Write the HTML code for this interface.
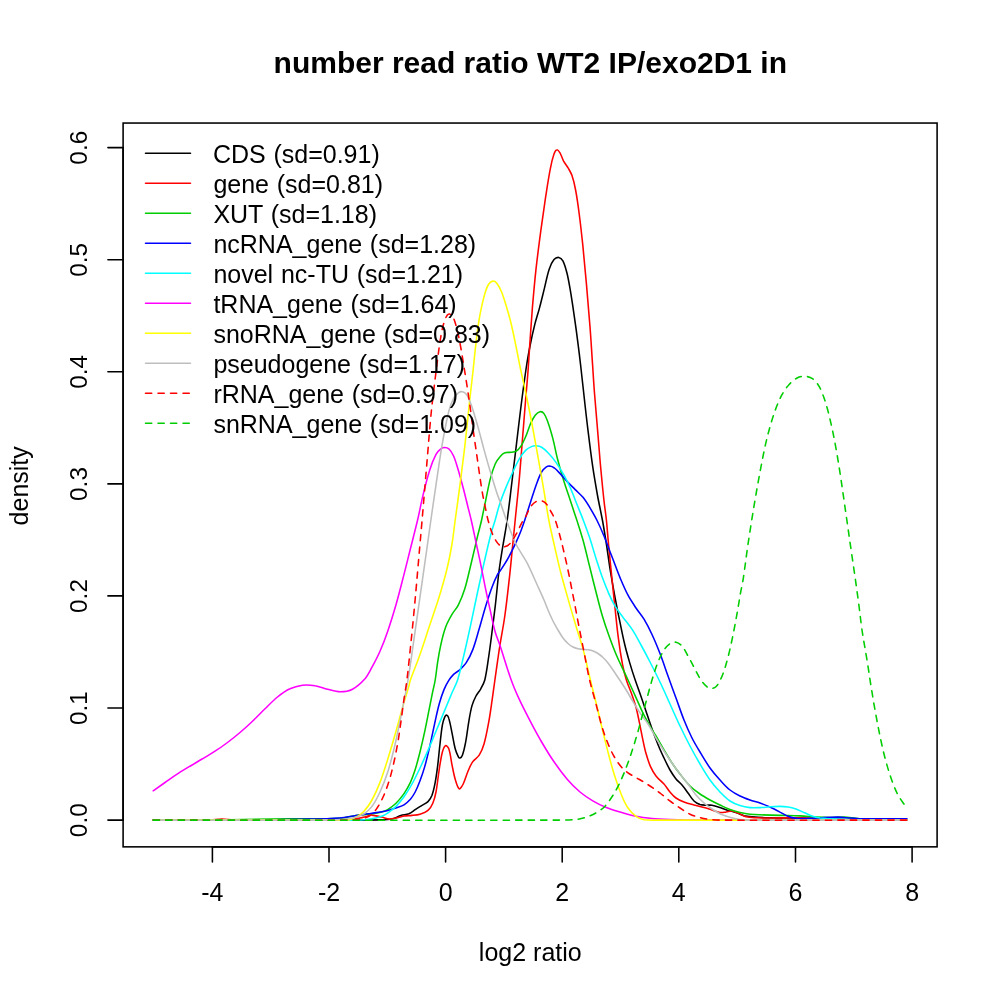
<!DOCTYPE html>
<html lang="en"><head><meta charset="utf-8"><title>number read ratio WT2 IP/exo2D1 in</title>
<style>html,body{margin:0;padding:0;background:#fff;width:1000px;height:1000px;overflow:hidden}</style>
</head><body>
<svg width="1000" height="1000" viewBox="0 0 1000 1000" style="position:absolute;left:0;top:0">
<rect width="1000" height="1000" fill="#fff"/>
<g fill="none" stroke-width="1.56" stroke-linejoin="round" stroke-linecap="round">
<path d="M153.2,820.1C212.2,820.1 271.1,820.2 330.0,820.1C346.7,820.1 363.3,820.2 380.0,819.9C384.3,819.8 388.7,819.7 392.8,818.8C395.6,818.2 398.1,816.3 400.8,815.4C403.4,814.6 406.3,814.8 408.8,813.8C411.1,812.8 413.1,811.0 415.2,809.6C417.3,808.2 419.5,806.9 421.6,805.6C423.7,804.3 426.3,803.3 428.0,801.6C429.7,799.9 431.1,797.5 432.0,795.2C433.5,791.1 434.4,786.7 435.2,782.4C436.2,777.1 436.9,771.8 437.6,766.4C438.5,759.0 439.1,751.5 440.0,744.0C440.7,737.6 441.3,731.1 442.4,724.8C442.9,722.1 443.7,719.2 444.8,716.8C445.2,716.0 446.3,715.0 446.9,715.2C447.7,715.5 448.5,717.2 448.8,718.4C450.2,723.1 451.0,728.0 452.0,732.8C453.1,738.1 453.8,743.6 455.2,748.8C455.9,751.6 457.1,754.3 458.4,756.8C458.7,757.4 459.5,758.2 460.0,758.0C460.9,757.7 462.0,756.3 462.4,755.2C463.9,751.1 464.8,746.7 465.6,742.4C466.9,735.5 467.6,728.5 468.8,721.6C469.7,716.2 470.5,710.8 472.0,705.6C472.9,702.3 474.4,699.1 476.0,696.0C477.3,693.5 479.4,691.3 480.8,688.8C482.3,686.0 484.0,683.1 484.8,680.0C486.7,672.2 487.6,664.0 488.8,656.0C490.0,648.0 491.0,640.0 492.0,632.0C493.1,623.5 494.2,614.9 495.2,606.4C496.4,596.3 497.3,586.1 498.4,576.0C498.9,572.0 499.4,568.0 500.0,564.0C501.0,557.3 502.1,550.7 503.2,544.0C504.5,536.0 506.1,528.0 507.2,520.0C508.7,509.4 509.9,498.7 511.2,488.0C512.8,474.7 514.4,461.3 516.0,448.0C517.6,434.7 519.1,421.3 520.8,408.0C522.4,395.3 524.0,382.6 525.9,370.0C527.1,362.0 528.4,354.0 530.0,346.0C531.4,338.8 533.0,331.6 534.8,324.4C536.2,318.8 538.1,313.2 539.6,307.6C541.3,301.2 542.8,294.8 544.4,288.4C546.0,282.0 547.1,275.4 549.2,269.2C550.3,265.8 551.9,262.2 554.0,259.6C555.1,258.3 557.3,257.2 558.8,257.4C560.3,257.6 562.1,259.3 562.9,260.8C564.9,264.8 566.1,269.5 567.2,274.0C568.7,280.3 569.7,286.8 570.8,293.2C572.1,301.2 573.3,309.2 574.4,317.2C575.7,326.0 576.9,334.8 578.0,343.6C578.9,350.7 579.8,357.9 580.6,365.0C581.6,374.0 582.6,383.0 583.6,392.0C585.0,404.8 586.4,417.6 588.0,430.4C589.5,442.7 591.0,455.0 592.8,467.2C594.2,476.8 595.9,486.4 597.6,496.0C599.1,504.0 600.9,512.0 602.4,520.0C603.9,528.0 605.1,536.0 606.4,544.0C607.8,553.1 608.9,562.2 610.4,571.2C611.9,580.3 613.5,589.4 615.2,598.4C616.7,606.4 618.3,614.4 620.0,622.4C621.5,629.9 623.0,637.4 624.8,644.8C626.2,650.7 627.9,656.6 629.6,662.4C631.3,668.3 633.2,674.2 635.2,680.0C636.9,685.0 638.8,690.0 640.5,695.0C642.6,701.0 644.6,707.0 646.6,713.0C648.7,719.0 650.6,725.0 652.8,731.0C654.8,736.4 656.8,741.7 659.0,747.0C660.5,750.7 662.3,754.4 664.0,758.0C665.9,762.0 667.8,766.1 670.0,770.0C671.8,773.1 673.8,776.2 676.0,779.0C677.8,781.2 680.2,782.9 682.0,785.0C684.2,787.5 686.0,790.3 688.0,793.0C690.0,795.7 691.6,798.7 694.0,801.0C695.6,802.6 697.9,803.8 700.0,804.6C701.9,805.2 704.0,805.1 706.0,805.2C708.0,805.3 710.0,804.9 712.0,805.2C714.7,805.7 717.4,806.7 720.0,807.6C722.7,808.5 725.3,809.6 728.0,810.4C730.6,811.2 733.4,811.6 736.0,812.5C738.7,813.4 741.2,814.9 744.0,815.7C746.6,816.3 749.3,816.5 752.0,816.7C757.3,817.2 762.7,817.6 768.0,817.8C773.3,818.0 778.7,817.9 784.0,818.0C789.3,818.0 794.7,817.9 800.0,818.0C810.0,818.2 820.0,818.8 830.0,819.0C840.0,819.3 850.0,819.6 860.0,819.7C875.6,819.8 891.3,819.8 907.0,819.9" stroke="#000000"/>
<path d="M153.2,820.1C172.2,820.1 191.1,820.4 210.0,820.1C214.0,820.0 218.0,819.1 222.0,819.1C226.0,819.1 230.0,820.1 234.0,820.1C269.3,820.3 304.7,820.4 340.0,819.8C346.7,819.7 353.4,818.7 360.0,817.9C362.4,817.6 364.8,816.8 367.2,816.3C368.8,815.9 370.4,815.0 372.0,815.1C375.2,815.3 378.4,816.4 381.6,817.1C384.3,817.7 386.9,819.0 389.6,819.1C391.7,819.3 393.9,818.5 396.0,818.0C398.7,817.4 401.3,816.4 404.0,816.0C406.6,815.6 409.3,815.7 412.0,815.4C414.7,815.2 417.5,815.1 420.0,814.3C422.8,813.4 425.8,812.3 428.0,810.4C430.1,808.6 431.7,805.8 432.8,803.2C434.3,799.7 435.3,795.8 436.0,792.0C437.4,784.6 438.0,777.0 439.2,769.6C440.1,763.7 440.9,757.7 442.4,752.0C443.0,749.7 444.3,746.3 445.6,745.6C446.4,745.2 448.3,747.4 448.8,748.8C450.5,753.8 450.9,759.5 452.0,764.8C453.0,769.6 453.8,774.5 455.2,779.2C456.2,782.5 457.5,787.8 459.2,788.8C460.2,789.4 462.3,785.8 463.2,784.0C465.2,780.0 466.2,775.4 468.0,771.2C469.4,767.9 470.8,764.5 472.8,761.6C474.5,759.2 477.6,757.7 479.2,755.2C481.3,751.8 482.9,747.9 484.0,744.0C486.1,736.7 487.4,729.1 488.8,721.6C490.1,714.7 491.0,707.7 492.0,700.8C493.0,693.9 493.9,686.9 494.9,680.0C495.8,673.6 496.7,667.2 497.6,660.8C498.4,655.5 499.1,650.1 500.0,644.8C501.5,635.2 503.5,625.6 504.8,616.0C506.7,602.7 508.1,589.3 509.6,576.0C510.8,565.3 511.7,554.7 512.8,544.0C513.6,536.0 514.4,528.0 515.2,520.0C516.5,506.7 518.0,493.3 519.2,480.0C520.4,466.7 521.3,453.3 522.4,440.0C523.5,426.7 524.5,413.3 525.6,400.0C526.4,390.0 527.4,380.0 528.1,370.0C528.8,360.4 529.3,350.8 530.0,341.2C530.8,330.0 531.5,318.8 532.4,307.6C533.5,294.8 534.6,282.0 536.0,269.2C537.4,256.4 539.1,243.6 540.8,230.8C542.3,219.6 543.9,208.4 545.6,197.2C547.1,187.6 548.5,177.9 550.4,168.4C551.3,163.5 552.4,158.6 554.0,154.0C554.6,152.4 555.8,149.9 556.9,149.7C557.8,149.5 559.3,151.6 560.0,152.8C561.5,155.4 562.2,158.5 563.6,161.2C565.0,163.7 566.9,165.9 568.4,168.4C569.7,170.7 571.2,173.1 572.0,175.6C573.6,180.3 574.7,185.1 575.6,190.0C577.1,197.9 578.2,206.0 579.2,214.0C580.6,224.4 581.7,234.8 582.8,245.2C584.1,258.0 585.3,270.8 586.4,283.6C587.7,298.0 588.9,312.4 590.0,326.8C591.0,339.5 591.7,352.3 592.6,365.0C593.2,374.0 593.7,383.0 594.4,392.0C595.4,404.8 596.5,417.6 597.6,430.4C598.7,443.2 599.6,456.0 600.8,468.8C601.8,479.5 602.8,490.1 604.0,500.8C604.7,507.2 605.7,513.6 606.4,520.0C607.3,529.1 607.9,538.1 608.8,547.2C609.8,557.9 610.9,568.5 612.0,579.2C613.0,589.3 614.1,599.5 615.2,609.6C616.2,619.2 617.1,628.8 618.4,638.4C619.5,647.0 620.8,655.5 622.4,664.0C623.4,669.4 624.8,674.8 626.4,680.0C627.7,684.4 629.7,688.5 631.2,692.8C632.9,697.6 634.6,702.3 636.0,707.2C637.3,711.9 638.2,716.8 639.2,721.6C640.3,726.9 641.3,732.3 642.4,737.6C643.4,742.4 644.3,747.3 645.6,752.0C647.0,756.9 648.4,761.8 650.4,766.4C651.9,769.8 653.8,773.1 656.0,776.0C658.3,779.0 661.5,781.2 664.0,784.0C666.2,786.5 667.8,789.5 670.0,792.0C671.8,794.1 673.7,796.4 676.0,798.0C678.4,799.7 681.2,800.9 684.0,802.0C687.2,803.3 690.6,804.1 694.0,805.0C697.3,805.9 700.7,806.7 704.0,807.6C706.7,808.3 709.3,809.2 712.0,810.0C714.7,810.8 717.3,812.1 720.0,812.5C722.0,812.8 724.0,812.3 726.0,812.1C728.0,811.8 730.0,810.8 732.0,811.0C734.0,811.2 736.0,812.3 738.0,813.1C740.7,814.2 743.2,816.0 746.0,816.7C749.2,817.5 752.7,817.6 756.0,817.8C760.7,818.0 765.3,818.0 770.0,818.0C780.0,818.0 790.0,817.5 800.0,817.8C810.0,818.0 820.0,819.3 830.0,819.5C855.6,820.0 881.3,819.7 907.0,819.9" stroke="#ff0000"/>
<path d="M153.2,820.1C178.8,820.0 204.4,819.9 230.0,819.7C250.0,819.5 270.0,819.2 290.0,818.9C306.7,818.7 323.4,819.2 340.0,818.3C345.4,818.0 350.6,816.2 356.0,815.4C361.3,814.7 366.7,814.5 372.0,813.8C375.2,813.3 378.5,812.9 381.6,812.1C383.8,811.4 386.0,810.5 388.0,809.3C390.8,807.6 393.6,805.5 396.0,803.2C399.0,800.3 401.6,797.0 404.0,793.6C406.4,790.1 408.6,786.3 410.4,782.4C412.3,778.3 413.8,773.9 415.2,769.6C417.0,763.8 418.5,757.9 420.0,752.0C421.7,745.1 423.3,738.2 424.8,731.2C426.5,723.2 428.0,715.2 429.6,707.2C430.7,701.9 431.7,696.5 432.8,691.2C433.6,687.5 434.6,683.8 435.2,680.0C436.2,674.2 436.7,668.2 437.6,662.4C438.5,656.5 439.5,650.6 440.8,644.8C442.1,638.9 443.5,632.9 445.6,627.2C447.2,622.7 449.6,618.5 452.0,614.4C453.9,611.1 456.7,608.2 458.4,604.8C461.0,599.7 463.1,594.3 464.8,588.8C467.4,580.4 469.1,571.7 471.2,563.2C473.4,554.1 475.4,545.1 477.6,536.0C478.9,530.7 480.4,525.4 481.6,520.0C483.0,513.6 484.2,507.2 485.6,500.8C487.2,493.3 488.5,485.8 490.4,478.4C491.7,473.5 493.2,468.6 495.2,464.0C496.4,461.4 498.1,459.0 500.0,456.8C501.3,455.2 503.0,453.5 504.8,452.8C506.7,452.0 509.1,452.6 511.2,452.3C512.8,452.1 514.7,452.0 516.0,451.2C517.9,450.1 519.6,448.3 520.8,446.4C522.8,443.5 524.2,440.1 525.6,436.8C527.4,432.6 528.6,428.2 530.4,424.0C531.8,421.0 533.2,417.8 535.2,415.2C536.4,413.7 538.3,412.0 540.0,411.7C541.3,411.5 543.2,412.5 544.0,413.6C545.8,416.0 546.9,419.4 548.0,422.4C549.9,427.6 551.4,433.0 552.8,438.4C554.6,445.3 555.8,452.3 557.6,459.2C559.5,466.7 561.7,474.2 564.0,481.6C566.0,488.0 568.3,494.4 570.4,500.8C572.5,507.2 574.7,513.6 576.8,520.0C579.0,526.9 581.3,533.8 583.2,540.8C585.5,549.3 587.5,557.9 589.6,566.4C591.7,574.9 593.8,583.5 596.0,592.0C598.1,600.0 600.0,608.1 602.4,616.0C604.3,622.5 606.5,628.9 608.8,635.2C611.3,642.2 613.9,649.2 616.8,656.0C620.3,664.1 624.3,672.0 628.0,680.0C630.7,685.9 633.3,691.7 636.0,697.6C638.7,703.5 641.1,709.4 644.0,715.2C646.5,720.1 649.3,724.8 652.0,729.6C653.3,731.8 654.7,733.8 656.0,736.0C658.7,740.6 661.3,745.4 664.0,750.0C666.6,754.4 669.2,758.8 672.0,763.0C674.5,766.8 677.2,770.4 680.0,774.0C683.2,778.1 686.3,782.3 690.0,786.0C693.0,789.0 696.5,791.6 700.0,794.0C703.2,796.2 706.6,798.1 710.0,800.0C713.3,801.8 716.6,803.4 720.0,805.0C723.3,806.6 726.6,808.3 730.0,809.6C733.2,810.8 736.6,811.7 740.0,812.5C743.3,813.2 746.6,813.8 750.0,814.2C753.3,814.6 756.7,814.7 760.0,814.8C766.7,815.1 773.3,815.3 780.0,815.4C786.7,815.6 793.3,815.6 800.0,815.9C805.3,816.1 810.7,816.8 816.0,817.1C820.7,817.4 825.3,817.6 830.0,817.6C834.7,817.6 839.3,817.0 844.0,817.1C848.0,817.3 852.0,818.0 856.0,818.4C860.7,818.8 865.3,819.3 870.0,819.5C882.3,819.8 894.6,819.7 907.0,819.9" stroke="#00cd00"/>
<path d="M153.2,820.1C185.5,820.0 217.8,820.1 250.0,819.9C266.7,819.8 283.3,819.6 300.0,819.3C313.3,819.0 326.7,818.9 340.0,818.0C345.4,817.6 350.7,816.2 356.0,815.4C361.3,814.7 366.7,814.0 372.0,813.2C376.3,812.6 380.6,812.1 384.8,811.2C388.6,810.4 392.3,809.2 396.0,808.0C398.7,807.1 401.6,806.3 404.0,804.8C406.4,803.3 408.5,801.3 410.4,799.2C412.3,797.0 413.9,794.5 415.2,792.0C417.1,788.4 418.6,784.6 420.0,780.8C421.8,776.1 423.4,771.3 424.8,766.4C426.6,760.1 428.1,753.6 429.6,747.2C431.3,739.8 432.7,732.3 434.4,724.8C435.9,717.9 437.3,710.9 439.2,704.0C440.5,699.1 442.1,694.3 444.0,689.6C445.3,686.4 447.0,683.3 448.8,680.4C450.2,678.2 451.8,676.2 453.6,674.4C455.5,672.6 458.1,671.4 460.0,669.6C462.3,667.4 464.7,665.1 466.4,662.4C469.0,658.4 471.1,654.0 472.8,649.6C475.4,642.8 477.1,635.8 479.2,628.8C481.4,621.4 483.3,613.8 485.6,606.4C487.6,600.0 489.6,593.5 492.0,587.2C493.6,582.8 495.5,578.5 497.6,574.4C498.2,573.2 499.3,572.3 500.0,571.2C502.7,567.0 505.6,562.8 508.0,558.4C510.9,553.2 513.5,547.8 516.0,542.4C517.7,538.7 519.3,535.0 520.8,531.2C522.2,527.5 523.5,523.8 524.8,520.0C526.7,514.2 528.5,508.3 530.4,502.4C532.5,496.0 534.5,489.5 536.8,483.2C538.2,479.4 539.6,475.5 541.6,472.0C542.8,470.0 544.6,468.2 546.4,466.9C547.3,466.3 548.6,466.0 549.6,466.1C551.2,466.3 553.0,467.0 554.4,468.0C556.8,469.8 558.7,472.2 560.8,474.4C563.0,476.7 565.0,479.3 567.2,481.6C569.8,484.3 572.5,486.9 575.2,489.6C577.9,492.3 580.8,494.7 583.2,497.6C585.6,500.6 587.6,503.9 589.6,507.2C592.1,511.4 594.6,515.6 596.8,520.0C599.4,525.2 601.8,530.6 604.0,536.0C606.8,542.9 609.3,549.9 612.0,556.8C614.7,563.7 617.1,570.7 620.0,577.6C622.5,583.5 625.0,589.5 628.0,595.2C630.3,599.6 633.2,603.8 636.0,608.0C638.5,611.8 641.6,615.3 644.0,619.2C647.0,624.1 649.6,629.3 652.0,634.5C654.9,640.7 657.5,647.1 660.0,653.5C662.9,660.9 665.3,668.5 668.0,676.0C670.6,683.3 673.3,690.7 676.0,698.0C678.7,705.3 681.1,712.8 684.0,720.0C686.4,726.1 689.1,732.1 692.0,738.0C694.4,742.8 697.2,747.4 700.0,752.0C703.2,757.4 706.4,762.9 710.0,768.0C713.0,772.2 716.5,776.2 720.0,780.0C723.2,783.5 726.3,787.1 730.0,790.0C733.0,792.4 736.5,794.3 740.0,796.0C743.2,797.6 746.6,798.8 750.0,800.0C753.3,801.1 756.7,801.9 760.0,803.0C763.4,804.2 766.7,805.5 770.0,807.0C773.4,808.5 776.7,810.3 780.0,812.1C782.7,813.4 785.2,815.2 788.0,816.3C790.5,817.3 793.3,818.1 796.0,818.4C800.6,818.9 805.3,818.5 810.0,818.4C814.7,818.3 819.3,817.8 824.0,817.6C828.7,817.3 833.3,817.1 838.0,817.1C842.0,817.2 846.0,817.7 850.0,818.0C854.7,818.3 859.3,818.8 864.0,818.8C878.3,819.0 892.6,818.8 907.0,818.8" stroke="#0000ff"/>
<path d="M153.2,820.1C215.5,820.1 277.8,820.1 340.0,820.1C346.9,820.1 353.9,820.3 360.8,820.0C364.5,819.8 368.3,819.5 372.0,818.8C375.2,818.3 378.5,817.4 381.6,816.3C383.8,815.5 386.0,814.3 388.0,812.9C390.8,811.0 393.6,808.8 396.0,806.4C398.9,803.5 401.6,800.2 404.0,796.8C406.9,792.7 409.6,788.4 412.0,784.0C414.9,778.8 417.4,773.4 420.0,768.0C422.8,762.2 425.4,756.3 428.0,750.4C430.8,744.0 433.3,737.6 436.0,731.2C438.7,724.8 441.3,718.4 444.0,712.0C446.7,705.6 449.3,699.2 452.0,692.8C453.8,688.5 456.2,684.4 457.6,680.0C460.5,670.6 462.5,660.8 464.8,651.2C467.1,641.6 469.1,632.0 471.2,622.4C473.4,612.3 475.4,602.1 477.6,592.0C479.7,582.4 481.8,572.8 484.0,563.2C486.1,554.1 488.1,545.0 490.4,536.0C491.8,530.6 493.6,525.3 495.2,520.0C496.8,514.3 498.1,508.6 500.0,503.0C501.9,497.4 504.1,491.9 506.4,486.4C508.4,481.5 510.6,476.8 512.8,472.0C514.8,467.7 516.8,463.3 519.2,459.2C521.0,456.1 523.1,452.9 525.6,450.4C527.3,448.7 529.7,447.4 532.0,446.4C533.2,445.9 534.7,445.7 536.0,445.8C537.9,446.0 540.0,446.3 541.6,447.2C544.0,448.6 546.1,450.7 548.0,452.8C550.9,455.8 553.6,459.0 556.0,462.4C558.9,466.5 561.5,470.8 564.0,475.2C566.3,479.4 568.5,483.6 570.4,488.0C572.7,493.2 574.7,498.7 576.8,504.0C578.9,509.3 581.2,514.6 583.2,520.0C585.4,525.8 587.6,531.7 589.6,537.6C591.9,544.5 593.8,551.5 596.0,558.4C598.1,564.8 600.1,571.3 602.4,577.6C604.4,583.0 606.5,588.4 608.8,593.6C610.7,598.0 612.8,602.3 615.2,606.4C617.6,610.3 620.5,613.9 623.2,617.6C626.4,621.9 629.9,625.9 632.8,630.4C635.8,635.1 638.3,640.1 641.0,645.0C644.1,650.6 647.1,656.3 650.0,662.0C653.4,668.6 656.8,675.3 660.0,682.0C663.5,689.3 666.7,696.7 670.0,704.0C673.3,711.3 676.5,718.7 680.0,726.0C683.2,732.7 686.5,739.4 690.0,746.0C693.2,752.1 696.5,758.1 700.0,764.0C703.2,769.4 706.4,774.9 710.0,780.0C713.0,784.2 716.4,788.2 720.0,792.0C723.1,795.2 726.3,798.5 730.0,801.0C733.0,803.0 736.5,804.5 740.0,805.6C743.2,806.7 746.6,807.3 750.0,807.6C753.3,807.9 756.7,807.7 760.0,807.6C763.3,807.5 766.7,807.0 770.0,806.8C773.3,806.6 776.7,806.4 780.0,806.4C782.7,806.4 785.4,806.6 788.0,807.0C790.7,807.4 793.4,808.1 796.0,809.0C798.7,809.9 801.3,811.3 804.0,812.5C806.7,813.6 809.3,814.9 812.0,815.9C814.6,816.8 817.3,817.5 820.0,818.0C823.3,818.5 826.7,818.6 830.0,818.8C836.7,819.2 843.3,819.6 850.0,819.7C869.0,819.9 888.0,819.8 907.0,819.9" stroke="#00ffff"/>
<path d="M153.2,790.8C157.2,788.0 161.1,785.2 165.0,782.5C169.2,779.6 173.2,776.5 177.5,773.8C181.6,771.1 185.8,768.8 190.0,766.2C194.2,763.8 198.3,761.2 202.5,758.8C206.7,756.2 210.9,753.9 215.0,751.2C219.3,748.5 223.4,745.6 227.5,742.5C231.8,739.3 235.9,736.0 240.0,732.5C244.3,728.9 248.4,725.1 252.5,721.2C256.8,717.2 260.8,712.9 265.0,708.8C269.1,704.8 273.1,700.6 277.5,697.0C281.4,693.9 285.5,690.8 290.0,688.8C293.9,686.9 298.3,685.8 302.5,685.2C306.6,684.8 310.9,685.1 315.0,685.8C319.2,686.4 323.3,688.2 327.5,689.2C331.6,690.2 335.8,691.8 340.0,691.8C344.2,691.8 348.8,691.2 352.5,689.2C357.2,686.8 361.4,682.8 365.0,678.8C367.9,675.4 369.8,671.2 372.0,667.2C374.8,662.0 377.6,656.7 380.0,651.2C383.0,644.4 385.6,637.4 388.0,630.4C390.9,622.0 393.5,613.4 396.0,604.8C398.9,594.7 401.4,584.5 404.0,574.4C406.2,565.9 408.3,557.3 410.4,548.8C412.8,539.2 415.3,529.6 417.6,520.0C419.6,511.5 421.1,502.9 423.2,494.4C425.1,486.4 427.1,478.3 429.6,470.4C431.3,464.9 433.4,459.4 436.0,454.4C437.1,452.2 438.9,450.3 440.8,448.8C441.9,448.0 443.5,447.5 444.8,447.5C446.1,447.5 447.8,447.9 448.8,448.8C450.8,450.7 452.4,453.4 453.6,456.0C455.6,460.6 456.9,465.6 458.4,470.4C460.1,476.2 461.7,482.1 463.2,488.0C464.9,494.4 466.4,500.8 468.0,507.2C469.1,511.5 470.2,515.7 471.2,520.0C472.9,527.4 474.4,534.9 476.0,542.4C477.6,549.9 479.3,557.3 480.8,564.8C482.5,572.8 483.9,580.8 485.6,588.8C487.1,596.3 488.7,603.7 490.4,611.2C491.9,618.1 493.3,625.2 495.2,632.0C496.5,636.6 498.5,641.0 500.0,645.6C503.8,657.0 507.1,668.7 511.2,680.0C513.5,686.5 516.3,692.9 519.2,699.2C522.2,705.7 525.5,712.1 528.8,718.4C532.4,725.4 536.1,732.4 540.0,739.2C544.1,746.2 548.2,753.3 552.8,760.0C557.3,766.6 562.0,773.1 567.2,779.2C571.1,783.8 575.4,788.1 580.0,792.0C583.9,795.3 588.4,798.2 592.8,800.8C596.9,803.2 601.2,805.4 605.6,807.2C610.3,809.1 615.1,810.6 620.0,812.1C625.3,813.6 630.6,815.2 636.0,816.3C641.3,817.4 646.6,818.0 652.0,818.5C658.0,819.1 664.0,819.3 670.0,819.5C680.0,819.8 690.0,820.0 700.0,820.0C769.0,820.2 838.0,820.1 907.0,820.1" stroke="#ff00ff"/>
<path d="M153.2,820.1C212.2,820.1 271.1,820.1 330.0,820.1C336.0,820.1 342.1,820.7 348.0,820.0C350.8,819.7 353.5,818.5 356.0,817.1C358.9,815.6 361.8,813.6 364.0,811.2C367.1,807.9 369.8,804.0 372.0,800.0C375.1,794.4 377.7,788.4 380.0,782.4C383.0,774.5 385.5,766.4 388.0,758.4C390.8,749.4 393.4,740.3 396.0,731.2C398.7,721.6 401.3,712.0 404.0,702.4C405.5,697.0 407.3,691.8 408.8,686.4C409.4,684.3 409.7,682.1 410.4,680.0C413.4,671.4 417.0,663.0 420.0,654.4C423.4,644.9 426.4,635.2 429.6,625.6C432.8,616.0 436.2,606.5 439.2,596.8C442.1,587.3 444.9,577.7 447.2,568.0C449.1,560.1 450.7,552.0 452.0,544.0C453.3,536.0 454.1,528.0 455.2,520.0C456.8,508.3 458.5,496.5 460.0,484.8C461.7,472.0 463.3,459.2 464.8,446.4C466.5,431.3 468.0,416.1 469.6,401.0C470.6,391.7 471.8,382.3 472.8,373.0C473.9,363.0 474.8,353.0 476.0,343.0C476.9,335.1 477.9,327.1 479.2,319.2C480.1,313.8 481.2,308.5 482.4,303.2C483.3,299.2 484.3,295.1 485.6,291.2C486.4,288.7 487.3,286.1 488.8,284.0C489.7,282.7 491.4,281.2 492.8,281.1C494.1,281.0 495.9,282.1 496.8,283.2C498.8,285.7 500.3,288.9 501.6,292.0C503.5,296.7 504.9,301.6 506.4,306.4C508.1,312.2 509.8,318.1 511.2,324.0C513.0,331.4 514.5,338.9 516.0,346.4C517.7,354.4 519.1,362.4 520.8,370.4C522.3,377.6 524.1,384.8 525.6,392.0C527.8,402.6 530.0,413.3 532.0,424.0C534.2,435.7 536.3,447.5 538.4,459.2C540.3,469.9 542.2,480.5 544.0,491.2C545.6,500.8 547.0,510.4 548.8,520.0C550.4,528.6 552.5,537.1 554.4,545.6C556.5,554.7 558.5,563.8 560.8,572.8C563.3,582.4 566.1,592.0 568.8,601.6C571.4,610.7 574.1,619.7 576.8,628.8C578.9,635.7 581.3,642.6 583.2,649.6C585.9,659.7 587.9,669.9 590.4,680.0C592.2,687.5 594.2,694.9 596.0,702.4C598.2,711.5 600.2,720.5 602.4,729.6C604.5,738.1 606.5,746.7 608.8,755.2C610.8,762.7 612.8,770.2 615.2,777.6C617.1,783.5 619.2,789.5 621.6,795.2C623.4,799.6 625.3,804.1 628.0,808.0C630.1,811.1 633.0,814.1 636.0,816.3C638.3,818.0 641.2,819.2 644.0,819.7C649.2,820.5 654.7,820.1 660.0,820.1C742.3,820.2 824.6,820.1 907.0,820.1" stroke="#ffff00"/>
<path d="M153.2,820.1C212.2,820.1 271.1,820.7 330.0,820.1C337.6,820.0 345.4,819.4 352.8,818.0C356.7,817.3 360.6,815.8 364.0,813.8C367.0,811.9 369.9,809.3 372.0,806.4C375.2,802.0 377.7,797.0 380.0,792.0C383.1,785.3 385.7,778.3 388.0,771.2C390.5,763.3 392.5,755.2 394.4,747.2C396.2,739.8 397.7,732.3 399.2,724.8C400.9,716.8 402.4,708.8 404.0,700.8C405.4,693.9 406.9,687.0 408.0,680.0C410.1,667.2 411.8,654.4 413.6,641.6C415.8,626.7 417.9,611.7 420.0,596.8C422.1,581.9 424.3,566.9 426.4,552.0C427.9,541.3 429.4,530.7 430.9,520.0C432.6,508.3 434.2,496.5 436.0,484.8C438.1,470.9 440.0,457.0 442.4,443.2C444.3,432.5 446.2,421.7 448.8,411.2C449.9,406.8 451.5,402.4 453.6,398.4C454.7,396.3 456.5,394.2 458.4,392.8C459.5,392.0 461.2,391.5 462.4,391.7C463.8,392.0 465.5,393.1 466.4,394.4C468.5,397.5 469.9,401.2 471.2,404.8C473.6,411.6 475.6,418.6 477.6,425.6C479.9,433.6 481.8,441.6 484.0,449.6C486.1,457.1 488.2,464.6 490.4,472.0C492.5,479.0 494.6,485.9 496.8,492.8C497.8,495.8 499.0,498.7 500.0,501.6C502.2,507.7 504.1,513.9 506.4,520.0C509.4,528.1 512.3,536.3 516.0,544.0C519.2,550.7 523.8,556.6 527.2,563.2C530.7,570.0 533.6,577.1 536.8,584.0C539.2,589.3 541.7,594.6 544.0,600.0C545.4,603.3 546.6,606.7 548.0,610.0C549.6,613.7 551.2,617.4 553.0,621.0C554.5,624.1 556.3,627.0 558.0,630.0C559.6,632.7 561.1,635.5 563.0,638.0C564.5,640.0 566.2,641.9 568.0,643.5C569.5,644.9 571.2,646.1 573.0,647.0C574.5,647.8 576.3,648.3 578.0,648.7C579.6,649.1 581.3,649.1 583.0,649.3C584.7,649.5 586.4,649.5 588.0,649.8C589.7,650.1 591.4,650.4 593.0,651.0C594.7,651.6 596.4,652.5 598.0,653.5C599.8,654.7 601.5,656.0 603.0,657.5C604.8,659.2 606.5,661.1 608.0,663.0C609.8,665.2 611.4,667.6 613.0,670.0C614.7,672.5 616.3,675.0 618.0,677.5C619.7,680.0 621.4,682.5 623.0,685.0C624.7,687.6 626.4,690.3 628.0,693.0C629.4,695.3 630.6,697.7 632.0,700.0C634.9,704.7 637.7,709.4 640.8,714.0C643.1,717.4 645.8,720.5 648.0,724.0C650.9,728.5 653.3,733.4 656.0,738.0C658.6,742.4 661.3,746.7 664.0,751.0C666.6,755.0 669.3,759.1 672.0,763.0C674.6,766.7 677.3,770.4 680.0,774.0C682.6,777.4 685.4,780.6 688.0,784.0C690.7,787.6 693.1,791.5 696.0,795.0C698.4,797.9 701.2,800.5 704.0,803.0C706.5,805.2 709.2,807.1 712.0,809.0C714.6,810.7 717.2,812.4 720.0,813.8C722.6,815.0 725.3,815.9 728.0,816.7C730.6,817.5 733.3,818.3 736.0,818.8C738.6,819.4 741.3,819.7 744.0,819.9C749.3,820.2 754.7,820.1 760.0,820.1C809.0,820.2 858.0,820.1 907.0,820.1" stroke="#bebebe"/>
<path d="M153.2,820.1C218.8,820.1 284.4,820.5 350.0,820.1C353.4,820.1 356.7,819.6 360.0,818.9C363.0,818.3 366.2,817.8 368.8,816.3C371.6,814.7 374.1,812.2 376.0,809.6C378.9,805.7 381.2,801.3 383.2,796.8C385.7,791.1 387.8,785.2 389.6,779.2C391.5,772.9 393.0,766.4 394.4,760.0C395.9,753.1 397.2,746.2 398.4,739.2C399.6,731.8 400.6,724.3 401.6,716.8C402.4,710.9 403.1,705.1 404.0,699.2C404.9,693.1 406.0,687.1 406.8,681.0C408.2,670.0 409.2,659.0 410.4,648.0C411.5,637.3 412.6,626.7 413.6,616.0C414.7,604.3 415.8,592.5 416.8,580.8C417.9,568.5 418.9,556.3 420.0,544.0C420.7,536.0 421.4,528.0 422.1,520.0C423.0,509.3 423.9,498.7 424.8,488.0C425.9,475.2 426.9,462.4 428.0,449.6C429.0,437.3 430.0,425.1 431.2,412.8C432.1,403.5 433.3,394.3 434.4,385.0C435.4,376.4 436.5,367.8 437.6,359.2C438.6,351.7 439.5,344.2 440.8,336.8C441.6,332.0 442.6,327.1 444.0,322.4C444.7,319.9 445.8,317.3 447.2,315.2C447.7,314.5 448.9,313.9 449.6,314.1C450.7,314.4 452.1,315.6 452.8,316.8C454.3,319.4 455.2,322.6 456.0,325.6C457.6,331.4 458.9,337.3 460.0,343.2C461.5,351.1 462.7,359.1 464.0,367.0C465.1,373.7 466.2,380.3 467.2,387.0C468.3,394.3 469.4,401.7 470.4,409.0C471.2,415.1 472.0,421.1 472.8,427.2C473.8,434.7 474.9,442.1 476.0,449.6C477.1,457.1 478.1,464.5 479.2,472.0C480.2,478.9 481.2,485.9 482.4,492.8C483.3,498.2 484.5,503.5 485.6,508.8C486.4,512.5 487.0,516.3 488.0,520.0C489.2,524.3 490.4,528.6 492.0,532.8C493.1,535.6 494.4,538.3 496.0,540.8C497.1,542.6 498.5,544.2 500.0,545.6C500.9,546.4 502.1,547.4 503.2,547.2C505.3,546.8 508.0,545.6 509.6,544.0C512.2,541.4 514.1,537.7 516.0,534.4C518.4,530.3 520.1,525.8 522.4,521.6C523.0,520.4 524.2,519.6 524.8,518.4C526.8,514.8 528.1,510.6 530.4,507.2C531.8,505.0 533.8,502.8 536.0,501.6C537.6,500.7 539.9,500.4 541.6,500.8C543.4,501.2 545.2,502.6 546.4,504.0C548.4,506.3 549.7,509.3 551.2,512.0C552.6,514.6 554.2,517.2 555.2,520.0C557.4,526.3 559.1,532.7 560.8,539.2C563.1,548.2 565.2,557.3 567.2,566.4C569.5,577.0 571.5,587.7 573.6,598.4C575.8,609.6 577.8,620.8 580.0,632.0C581.6,640.0 583.2,648.0 584.8,656.0C586.4,664.0 587.7,672.1 589.6,680.0C591.5,688.1 593.9,696.0 596.0,704.0C598.1,712.0 600.0,720.1 602.4,728.0C604.2,734.0 606.4,739.9 608.8,745.6C610.6,750.0 612.8,754.3 615.2,758.4C617.0,761.5 619.2,764.5 621.6,767.2C623.5,769.3 625.7,771.1 628.0,772.8C630.5,774.6 633.3,776.0 636.0,777.6C638.0,778.8 640.0,779.8 642.0,781.0C644.7,782.6 647.4,784.3 650.0,786.0C653.4,788.3 656.7,790.6 660.0,793.0C663.4,795.6 666.6,798.4 670.0,801.0C673.3,803.4 676.6,805.8 680.0,808.0C683.3,810.2 686.5,812.5 690.0,814.2C693.2,815.7 696.6,816.7 700.0,817.6C703.3,818.4 706.6,819.0 710.0,819.5C713.3,819.9 716.7,820.1 720.0,820.1C782.3,820.3 844.6,820.1 907.0,820.1" stroke="#ff0000" stroke-dasharray="6.25,6.25"/>
<path d="M153.2,820.1C290.2,820.1 427.1,820.3 564.0,820.1C568.3,820.1 572.6,819.9 576.8,819.4C580.0,818.9 583.3,818.2 586.4,817.1C589.7,816.0 593.0,814.6 596.0,812.9C598.8,811.3 601.7,809.5 604.0,807.2C607.0,804.1 609.6,800.4 612.0,796.8C614.4,793.2 616.5,789.4 618.4,785.6C620.7,780.9 622.9,776.1 624.8,771.2C627.1,765.4 629.2,759.5 631.2,753.6C633.5,746.7 635.5,739.8 637.6,732.8C638.5,729.9 639.2,726.9 640.0,724.0C642.0,716.7 644.0,709.3 646.0,702.0C648.0,694.7 649.8,687.3 652.0,680.0C653.8,673.9 655.7,667.9 658.0,662.0C659.7,657.9 661.6,653.7 664.0,650.0C665.6,647.6 667.7,645.1 670.0,643.6C671.7,642.5 674.1,641.8 676.0,642.2C678.1,642.6 680.5,644.3 682.0,646.0C684.5,648.9 686.0,652.6 688.0,656.0C688.9,657.6 689.9,659.2 690.7,660.8C692.4,664.0 693.9,667.4 695.6,670.6C697.4,673.9 699.1,677.3 701.2,680.4C702.8,682.7 704.7,684.9 706.8,686.7C708.0,687.7 709.6,688.6 711.0,688.6C712.6,688.6 714.7,687.9 715.9,686.7C718.0,684.7 719.5,681.7 720.8,679.0C722.5,675.4 723.8,671.6 725.0,667.8C726.3,663.7 727.4,659.4 728.5,655.2C729.8,650.1 730.9,644.9 732.0,639.8C733.0,635.1 733.9,630.5 734.8,625.8C735.8,620.7 736.7,615.5 737.6,610.4C738.6,604.8 739.4,599.2 740.4,593.6C741.3,588.7 742.4,583.9 743.2,579.0C744.8,568.4 746.1,557.7 747.6,547.0C749.0,537.5 750.5,527.9 752.0,518.4C753.4,509.6 754.9,500.8 756.4,492.0C757.8,483.9 759.3,475.9 760.8,467.8C762.2,460.5 763.6,453.1 765.2,445.8C766.5,439.9 768.0,434.0 769.6,428.2C771.3,422.3 773.0,416.4 775.1,410.6C777.0,405.4 779.1,400.1 781.7,395.2C783.8,391.3 786.4,387.5 789.4,384.2C791.6,381.8 794.2,379.5 797.1,378.0C799.4,376.8 802.3,376.2 804.8,376.3C807.4,376.4 810.4,377.2 812.5,378.7C815.2,380.6 817.4,383.5 819.1,386.4C821.5,390.5 823.0,395.1 824.6,399.6C826.3,404.6 827.7,409.8 829.0,415.0C830.6,421.6 832.1,428.2 833.4,434.8C835.0,442.8 836.5,450.9 837.8,459.0C839.4,468.5 840.8,478.1 842.2,487.6C843.7,497.9 845.1,508.1 846.6,518.4C848.1,528.7 849.5,538.9 851.0,549.2C852.3,558.4 853.7,567.5 855.0,576.7C856.4,586.5 857.7,596.2 859.0,606.0C860.0,614.0 860.9,622.0 862.0,630.0C862.5,633.3 863.0,636.7 863.6,640.0C864.7,646.7 865.9,653.3 867.0,660.0C868.4,668.7 869.6,677.3 871.0,686.0C872.3,694.0 873.6,702.0 875.0,710.0C876.6,718.7 878.2,727.4 880.0,736.0C881.5,743.4 883.1,750.7 885.0,758.0C886.8,764.7 888.7,771.4 891.0,778.0C893.0,783.8 895.2,789.6 898.0,795.0C900.1,799.0 903.1,802.6 905.6,806.4C906.1,807.1 906.5,807.8 907.0,808.5" stroke="#00cd00" stroke-dasharray="6.25,6.25"/>
</g>
<g fill="none" stroke="#000" stroke-width="1.56" stroke-linecap="round">
<rect x="123.1" y="123.05" width="814" height="723.8"/>
<path d="M212.4,846.85V862"/>
<path d="M329.0,846.85V862"/>
<path d="M445.6,846.85V862"/>
<path d="M562.2,846.85V862"/>
<path d="M678.8,846.85V862"/>
<path d="M795.5,846.85V862"/>
<path d="M912.1,846.85V862"/>
<path d="M123.1,820.1H107.9"/>
<path d="M123.1,708.0H107.9"/>
<path d="M123.1,595.9H107.9"/>
<path d="M123.1,483.9H107.9"/>
<path d="M123.1,371.8H107.9"/>
<path d="M123.1,259.7H107.9"/>
<path d="M123.1,147.6H107.9"/>
<path d="M212.4,846.85H912.1"/>
<path d="M123.1,820.1V147.6"/>
</g>
<g font-family="'Liberation Sans', sans-serif" font-size="25px" fill="#000">
<text x="212.4" y="901.3" text-anchor="middle">-4</text>
<text x="329.0" y="901.3" text-anchor="middle">-2</text>
<text x="445.6" y="901.3" text-anchor="middle">0</text>
<text x="562.2" y="901.3" text-anchor="middle">2</text>
<text x="678.8" y="901.3" text-anchor="middle">4</text>
<text x="795.5" y="901.3" text-anchor="middle">6</text>
<text x="912.1" y="901.3" text-anchor="middle">8</text>
<text transform="translate(87.2,820.2) rotate(-90)" text-anchor="middle" font-size="24.4px">0.0</text>
<text transform="translate(87.2,708.1) rotate(-90)" text-anchor="middle" font-size="24.4px">0.1</text>
<text transform="translate(87.2,596.0) rotate(-90)" text-anchor="middle" font-size="24.4px">0.2</text>
<text transform="translate(87.2,484.0) rotate(-90)" text-anchor="middle" font-size="24.4px">0.3</text>
<text transform="translate(87.2,371.9) rotate(-90)" text-anchor="middle" font-size="24.4px">0.4</text>
<text transform="translate(87.2,259.8) rotate(-90)" text-anchor="middle" font-size="24.4px">0.5</text>
<text transform="translate(87.2,147.7) rotate(-90)" text-anchor="middle" font-size="24.4px">0.6</text>
<text x="530.3" y="960.6" text-anchor="middle">log2 ratio</text>
<text transform="translate(28.0,485.8) rotate(-90)" text-anchor="middle">density</text>
<text x="530.3" y="72.8" text-anchor="middle" font-size="30px" font-weight="bold">number read ratio WT2 IP/exo2D1 in</text>
<text x="212.9" y="162.5" word-spacing="0.8">CDS (sd=0.91)</text>
<text x="213.4" y="192.5" word-spacing="0.8">gene (sd=0.81)</text>
<text x="213.4" y="222.5" word-spacing="0.8">XUT (sd=1.18)</text>
<text x="213.4" y="252.5" word-spacing="0.8">ncRNA_gene (sd=1.28)</text>
<text x="213.4" y="282.5" word-spacing="0.8">novel nc-TU (sd=1.21)</text>
<text x="213.4" y="312.5" word-spacing="0.8">tRNA_gene (sd=1.64)</text>
<text x="213.4" y="342.5" word-spacing="0.8">snoRNA_gene (sd=0.83)</text>
<text x="213.4" y="372.5" word-spacing="0.8">pseudogene (sd=1.17)</text>
<text x="213.4" y="402.5" word-spacing="0.8">rRNA_gene (sd=0.97)</text>
<text x="213.4" y="432.5" word-spacing="0.8">snRNA_gene (sd=1.09)</text>
</g>
<g fill="none" stroke-width="1.56" stroke-linecap="round">
<path d="M145.5,153.2H190.5" stroke="#000000"/>
<path d="M145.5,183.2H190.5" stroke="#ff0000"/>
<path d="M145.5,213.2H190.5" stroke="#00cd00"/>
<path d="M145.5,243.2H190.5" stroke="#0000ff"/>
<path d="M145.5,273.2H190.5" stroke="#00ffff"/>
<path d="M145.5,303.2H190.5" stroke="#ff00ff"/>
<path d="M145.5,333.2H190.5" stroke="#ffff00"/>
<path d="M145.5,363.2H190.5" stroke="#bebebe"/>
<path d="M145.5,393.2H190.5" stroke="#ff0000" stroke-dasharray="6.25,6.25"/>
<path d="M145.5,423.2H190.5" stroke="#00cd00" stroke-dasharray="6.25,6.25"/>
</g>
</svg>
</body></html>
